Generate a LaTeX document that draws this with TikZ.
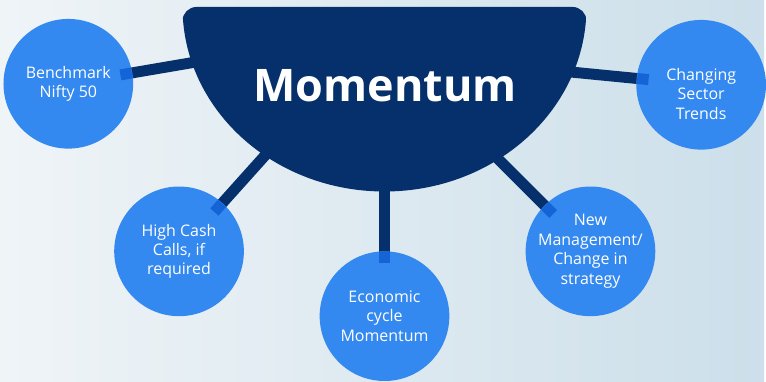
\documentclass[tikz,border=0pt]{standalone}
\usepackage{fontspec}
\setmainfont{Open Sans}
\usetikzlibrary{calc}
\definecolor{navy}{HTML}{05306B}
\definecolor{bubbleblue}{HTML}{3389F0}
\definecolor{stubblue}{HTML}{1464D8}
\definecolor{bgleft}{HTML}{EFF4F7}
\definecolor{bgmid}{HTML}{EAF1F5}
\definecolor{bgright}{HTML}{CCDFEA}
\pgfdeclarelayer{back}
\pgfsetlayers{back,main}
\begin{document}
\begin{tikzpicture}[x=1pt, y=1pt,
  bubble/.style={circle, fill=bubbleblue, minimum size=130pt, inner sep=0pt,
    text=white, align=center, font=\fontsize{16}{19.5}\selectfont},
  caption/.style={text=white, align=center, font=\fontsize{16}{19.5}\selectfont},
  link/.style={draw=navy, line width=11pt, shorten >=-3pt},
  stub/.style={draw=stubblue, line width=11pt},
]
% Background
\begin{pgfonlayer}{back}
\shade[left color=bgleft, middle color=bgmid, right color=bgright] (0,0) rectangle (766,382);
\end{pgfonlayer}
% Hub
\begin{scope}
\clip[rounded corners=14pt] (183,150) rectangle (588,375);
\fill[navy] (385.5,375) ellipse[x radius=202.5, y radius=185];
\end{scope}
\node[font=\fontsize{45}{45}\selectfont\bfseries, text=white, anchor=base] (title) at (386,280) {Momentum};
% Bubbles
\node[bubble] (bench) at (68.5,298) {Benchmark\\Nifty 50};
\node[bubble] (sector) at (703,297) {};
\node[caption] (sectortext) at (703,288) {Changing\\Sector\\Trends};
\node[bubble] (cash) at (179.5,130) {High Cash\\Calls, if\\required};
\node[bubble] (econ) at (385.5,65) {Economic\\cycle\\Momentum};
\node[bubble] (mgmt) at (592,130) {New\\Management/\\Change in\\strategy};
% Hub anchors
\coordinate (hubA) at (215,323);
\coordinate (hubB) at (560,311);
\coordinate (hubC) at (280,242);
\coordinate (hubD) at (385.5,212);
\coordinate (hubE) at (480,242);
% Links
\begin{pgfonlayer}{back}
\draw[link] (hubA) -- (bench);
\draw[link] (hubB) -- (sector);
\draw[link] (hubC) -- (cash);
\draw[link] (hubD) -- (econ);
\draw[link] (hubE) -- (mgmt);
\end{pgfonlayer}
% Link ends
\foreach \b/\h in {bench/hubA, sector/hubB, cash/hubC, econ/hubD, mgmt/hubE}
  \draw[stub] ($(\b.center)!64.5pt!(\h)$) -- ($(\b.center)!53pt!(\h)$);
\end{tikzpicture}
\end{document}
